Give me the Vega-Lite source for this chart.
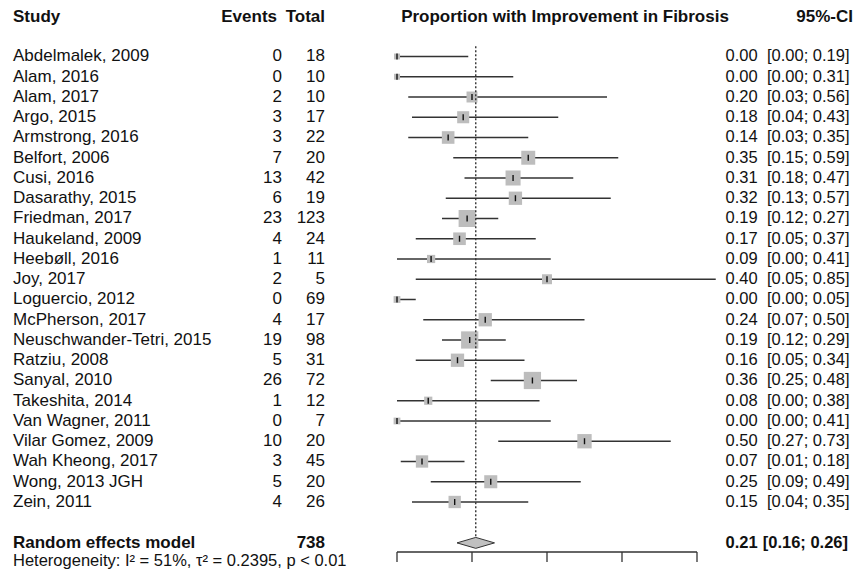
{
  "$schema": "https://vega.github.io/schema/vega-lite/v6.json",
  "width": 858,
  "height": 552,
  "padding": {"left": 0, "top": 0, "right": 0, "bottom": 20},
  "autosize": {"type": "none"},
  "background": "white",
  "config": {
    "view": {"stroke": null},
    "text": {"font": "Liberation Sans", "fontSize": 16.5, "color": "#111111", "baseline": "middle"}
  },
  "datasets": {
    "studies": [
      {"row": 0, "study": "Abdelmalek, 2009", "events": 0, "total": 18, "est": 0.0, "lo": 0.0, "hi": 0.19, "ci": "[0.00; 0.19]", "weight": 1.0},
      {"row": 1, "study": "Alam, 2016", "events": 0, "total": 10, "est": 0.0, "lo": 0.0, "hi": 0.31, "ci": "[0.00; 0.31]", "weight": 1.0},
      {"row": 2, "study": "Alam, 2017", "events": 2, "total": 10, "est": 0.2, "lo": 0.03, "hi": 0.56, "ci": "[0.03; 0.56]", "weight": 3.4},
      {"row": 3, "study": "Argo, 2015", "events": 3, "total": 17, "est": 0.1765, "lo": 0.04, "hi": 0.43, "ci": "[0.04; 0.43]", "weight": 4.1},
      {"row": 4, "study": "Armstrong, 2016", "events": 3, "total": 22, "est": 0.1364, "lo": 0.03, "hi": 0.35, "ci": "[0.03; 0.35]", "weight": 4.5},
      {"row": 5, "study": "Belfort, 2006", "events": 7, "total": 20, "est": 0.35, "lo": 0.15, "hi": 0.59, "ci": "[0.15; 0.59]", "weight": 5.5},
      {"row": 6, "study": "Cusi, 2016", "events": 13, "total": 42, "est": 0.3095, "lo": 0.18, "hi": 0.47, "ci": "[0.18; 0.47]", "weight": 6.4},
      {"row": 7, "study": "Dasarathy, 2015", "events": 6, "total": 19, "est": 0.3158, "lo": 0.13, "hi": 0.57, "ci": "[0.13; 0.57]", "weight": 5.0},
      {"row": 8, "study": "Friedman, 2017", "events": 23, "total": 123, "est": 0.187, "lo": 0.12, "hi": 0.27, "ci": "[0.12; 0.27]", "weight": 8.2},
      {"row": 9, "study": "Haukeland, 2009", "events": 4, "total": 24, "est": 0.1667, "lo": 0.05, "hi": 0.37, "ci": "[0.05; 0.37]", "weight": 4.5},
      {"row": 10, "study": "Heebøll, 2016", "events": 1, "total": 11, "est": 0.0909, "lo": 0.0, "hi": 0.41, "ci": "[0.00; 0.41]", "weight": 1.9},
      {"row": 11, "study": "Joy, 2017", "events": 2, "total": 5, "est": 0.4, "lo": 0.05, "hi": 0.85, "ci": "[0.05; 0.85]", "weight": 2.8},
      {"row": 12, "study": "Loguercio, 2012", "events": 0, "total": 69, "est": 0.0, "lo": 0.0, "hi": 0.05, "ci": "[0.00; 0.05]", "weight": 1.3},
      {"row": 13, "study": "McPherson, 2017", "events": 4, "total": 17, "est": 0.2353, "lo": 0.07, "hi": 0.5, "ci": "[0.07; 0.50]", "weight": 5.0},
      {"row": 14, "study": "Neuschwander-Tetri, 2015", "events": 19, "total": 98, "est": 0.1939, "lo": 0.12, "hi": 0.29, "ci": "[0.12; 0.29]", "weight": 8.4},
      {"row": 15, "study": "Ratziu, 2008", "events": 5, "total": 31, "est": 0.1613, "lo": 0.05, "hi": 0.34, "ci": "[0.05; 0.34]", "weight": 5.0},
      {"row": 16, "study": "Sanyal, 2010", "events": 26, "total": 72, "est": 0.3611, "lo": 0.25, "hi": 0.48, "ci": "[0.25; 0.48]", "weight": 8.4},
      {"row": 17, "study": "Takeshita, 2014", "events": 1, "total": 12, "est": 0.0833, "lo": 0.0, "hi": 0.38, "ci": "[0.00; 0.38]", "weight": 1.9},
      {"row": 18, "study": "Van Wagner, 2011", "events": 0, "total": 7, "est": 0.0, "lo": 0.0, "hi": 0.41, "ci": "[0.00; 0.41]", "weight": 1.3},
      {"row": 19, "study": "Vilar Gomez, 2009", "events": 10, "total": 20, "est": 0.5, "lo": 0.27, "hi": 0.73, "ci": "[0.27; 0.73]", "weight": 5.8},
      {"row": 20, "study": "Wah Kheong, 2017", "events": 3, "total": 45, "est": 0.0667, "lo": 0.01, "hi": 0.18, "ci": "[0.01; 0.18]", "weight": 4.3},
      {"row": 21, "study": "Wong, 2013 JGH", "events": 5, "total": 20, "est": 0.25, "lo": 0.09, "hi": 0.49, "ci": "[0.09; 0.49]", "weight": 4.8},
      {"row": 22, "study": "Zein, 2011", "events": 4, "total": 26, "est": 0.1538, "lo": 0.04, "hi": 0.35, "ci": "[0.04; 0.35]", "weight": 4.3}
    ],
    "diamond": [
      {"x": 0.16, "top": 24.02, "bottom": 24.02},
      {"x": 0.21, "top": 23.75, "bottom": 24.29},
      {"x": 0.26, "top": 24.02, "bottom": 24.02}
    ],
    "ticks": [
      {"tick": 0}, {"tick": 0.2}, {"tick": 0.4}, {"tick": 0.6}, {"tick": 0.8}
    ],
    "labels": [
      {"key": "h_study", "t": "Study"},
      {"key": "h_events", "t": "Events"},
      {"key": "h_total", "t": "Total"},
      {"key": "h_prop", "t": "Proportion with Improvement in Fibrosis"},
      {"key": "h_ci", "t": "95%-CI"},
      {"key": "re_name", "t": "Random effects model"},
      {"key": "re_total", "t": "738"},
      {"key": "re_est", "t": "0.21"},
      {"key": "re_ci", "t": "[0.16; 0.26]"},
      {"key": "het", "t": "Heterogeneity: I² = 51%, τ² = 0.2395, p < 0.01"}
    ]
  },
  "layer": [
    {
      "data": {"name": "studies"},
      "mark": {"type": "rule", "color": "#333333", "strokeWidth": 1.5},
      "encoding": {
        "x": {"field": "lo", "type": "quantitative",
              "scale": {"domain": [-1.05867, 1.22933], "nice": false, "zero": false},
              "axis": null},
        "x2": {"field": "hi"},
        "y": {"field": "row", "type": "quantitative",
              "scale": {"domain": [-2.79, 24.47], "nice": false, "zero": false, "reverse": true},
              "axis": null}
      }
    },
    {
      "data": {"name": "studies"},
      "mark": {"type": "point", "shape": "square", "filled": true, "color": "#bdbdbd", "opacity": 1, "strokeWidth": 0},
      "encoding": {
        "x": {"field": "est", "type": "quantitative", "axis": null},
        "y": {"field": "row", "type": "quantitative", "axis": null},
        "size": {"field": "weight", "type": "quantitative", "scale": {"type": "linear", "domain": [0, 10], "range": [0, 354], "zero": true}, "legend": null}
      }
    },
    {
      "data": {"name": "studies"},
      "mark": {"type": "tick", "orient": "vertical", "size": 6, "thickness": 1.4, "color": "#111111", "opacity": 1},
      "encoding": {
        "x": {"field": "est", "type": "quantitative", "axis": null},
        "y": {"field": "row", "type": "quantitative", "axis": null}
      }
    },
    {
      "data": {"values": [{"t": "line"}]},
      "mark": {"type": "rule", "color": "#333333", "strokeWidth": 1.4, "strokeDash": [2, 2]},
      "encoding": {
        "x": {"datum": 0.21, "axis": null},
        "y": {"datum": -0.5, "axis": null},
        "y2": {"datum": 23.75}
      }
    },
    {
      "data": {"name": "diamond"},
      "mark": {"type": "area", "orient": "vertical", "color": "#c0c0c0", "opacity": 1, "stroke": "#333333", "strokeWidth": 1},
      "encoding": {
        "x": {"field": "x", "type": "quantitative", "axis": null},
        "y": {"field": "top", "type": "quantitative", "axis": null},
        "y2": {"field": "bottom"}
      }
    },
    {
      "data": {"values": [{"t": "axis"}]},
      "mark": {"type": "rule", "color": "#333333", "strokeWidth": 1.3},
      "encoding": {
        "x": {"datum": 0, "axis": null},
        "x2": {"datum": 0.8},
        "y": {"datum": 24.47, "axis": null}
      }
    },
    {
      "data": {"name": "ticks"},
      "mark": {"type": "rule", "color": "#333333", "strokeWidth": 1.3},
      "encoding": {
        "x": {"field": "tick", "type": "quantitative", "axis": null},
        "y": {"datum": 24.47, "axis": null},
        "y2": {"datum": 24.96}
      }
    },
    {
      "data": {"name": "studies"},
      "mark": {"type": "text", "align": "left", "fontSize": 17},
      "encoding": {
        "x": {"datum": -1.024, "axis": null},
        "y": {"field": "row", "type": "quantitative", "axis": null},
        "text": {"field": "study"}
      }
    },
    {
      "data": {"name": "studies"},
      "mark": {"type": "text", "align": "right", "fontSize": 17},
      "encoding": {
        "x": {"datum": -0.3067, "axis": null},
        "y": {"field": "row", "type": "quantitative", "axis": null},
        "text": {"field": "events"}
      }
    },
    {
      "data": {"name": "studies"},
      "mark": {"type": "text", "align": "right", "fontSize": 17},
      "encoding": {
        "x": {"datum": -0.192, "axis": null},
        "y": {"field": "row", "type": "quantitative", "axis": null},
        "text": {"field": "total"}
      }
    },
    {
      "data": {"name": "studies"},
      "mark": {"type": "text", "align": "left"},
      "encoding": {
        "x": {"datum": 0.876, "axis": null},
        "y": {"field": "row", "type": "quantitative", "axis": null},
        "text": {"field": "est", "format": ".2f"}
      }
    },
    {
      "data": {"name": "studies"},
      "mark": {"type": "text", "align": "right"},
      "encoding": {
        "x": {"datum": 1.2067, "axis": null},
        "y": {"field": "row", "type": "quantitative", "axis": null},
        "text": {"field": "ci"}
      }
    },
    {
      "data": {"name": "labels"},
      "transform": [{"filter": "datum.key == 'h_study'"}],
      "mark": {"type": "text", "align": "left", "fontWeight": "bold", "fontSize": 17},
      "encoding": {"x": {"datum": -1.024, "axis": null}, "y": {"datum": -1.95, "axis": null}, "text": {"field": "t"}}
    },
    {
      "data": {"name": "labels"},
      "transform": [{"filter": "datum.key == 'h_events'"}],
      "mark": {"type": "text", "align": "right", "fontWeight": "bold", "fontSize": 17},
      "encoding": {"x": {"datum": -0.32, "axis": null}, "y": {"datum": -1.95, "axis": null}, "text": {"field": "t"}}
    },
    {
      "data": {"name": "labels"},
      "transform": [{"filter": "datum.key == 'h_total'"}],
      "mark": {"type": "text", "align": "right", "fontWeight": "bold", "fontSize": 17},
      "encoding": {"x": {"datum": -0.192, "axis": null}, "y": {"datum": -1.95, "axis": null}, "text": {"field": "t"}}
    },
    {
      "data": {"name": "labels"},
      "transform": [{"filter": "datum.key == 'h_prop'"}],
      "mark": {"type": "text", "align": "center", "fontWeight": "bold", "fontSize": 17},
      "encoding": {"x": {"datum": 0.448, "axis": null}, "y": {"datum": -1.95, "axis": null}, "text": {"field": "t"}}
    },
    {
      "data": {"name": "labels"},
      "transform": [{"filter": "datum.key == 'h_ci'"}],
      "mark": {"type": "text", "align": "right", "fontWeight": "bold", "fontSize": 17},
      "encoding": {"x": {"datum": 1.216, "axis": null}, "y": {"datum": -1.95, "axis": null}, "text": {"field": "t"}}
    },
    {
      "data": {"name": "labels"},
      "transform": [{"filter": "datum.key == 're_name'"}],
      "mark": {"type": "text", "align": "left", "fontWeight": "bold", "fontSize": 17},
      "encoding": {"x": {"datum": -1.024, "axis": null}, "y": {"datum": 24.02, "axis": null}, "text": {"field": "t"}}
    },
    {
      "data": {"name": "labels"},
      "transform": [{"filter": "datum.key == 're_total'"}],
      "mark": {"type": "text", "align": "right", "fontWeight": "bold", "fontSize": 17},
      "encoding": {"x": {"datum": -0.192, "axis": null}, "y": {"datum": 24.02, "axis": null}, "text": {"field": "t"}}
    },
    {
      "data": {"name": "labels"},
      "transform": [{"filter": "datum.key == 're_est'"}],
      "mark": {"type": "text", "align": "left", "fontWeight": "bold"},
      "encoding": {"x": {"datum": 0.876, "axis": null}, "y": {"datum": 24.02, "axis": null}, "text": {"field": "t"}}
    },
    {
      "data": {"name": "labels"},
      "transform": [{"filter": "datum.key == 're_ci'"}],
      "mark": {"type": "text", "align": "right", "fontWeight": "bold"},
      "encoding": {"x": {"datum": 1.2027, "axis": null}, "y": {"datum": 24.02, "axis": null}, "text": {"field": "t"}}
    },
    {
      "data": {"name": "labels"},
      "transform": [{"filter": "datum.key == 'het'"}],
      "mark": {"type": "text", "align": "left"},
      "encoding": {"x": {"datum": -1.024, "axis": null}, "y": {"datum": 24.91, "axis": null}, "text": {"field": "t"}}
    }
  ]
}
